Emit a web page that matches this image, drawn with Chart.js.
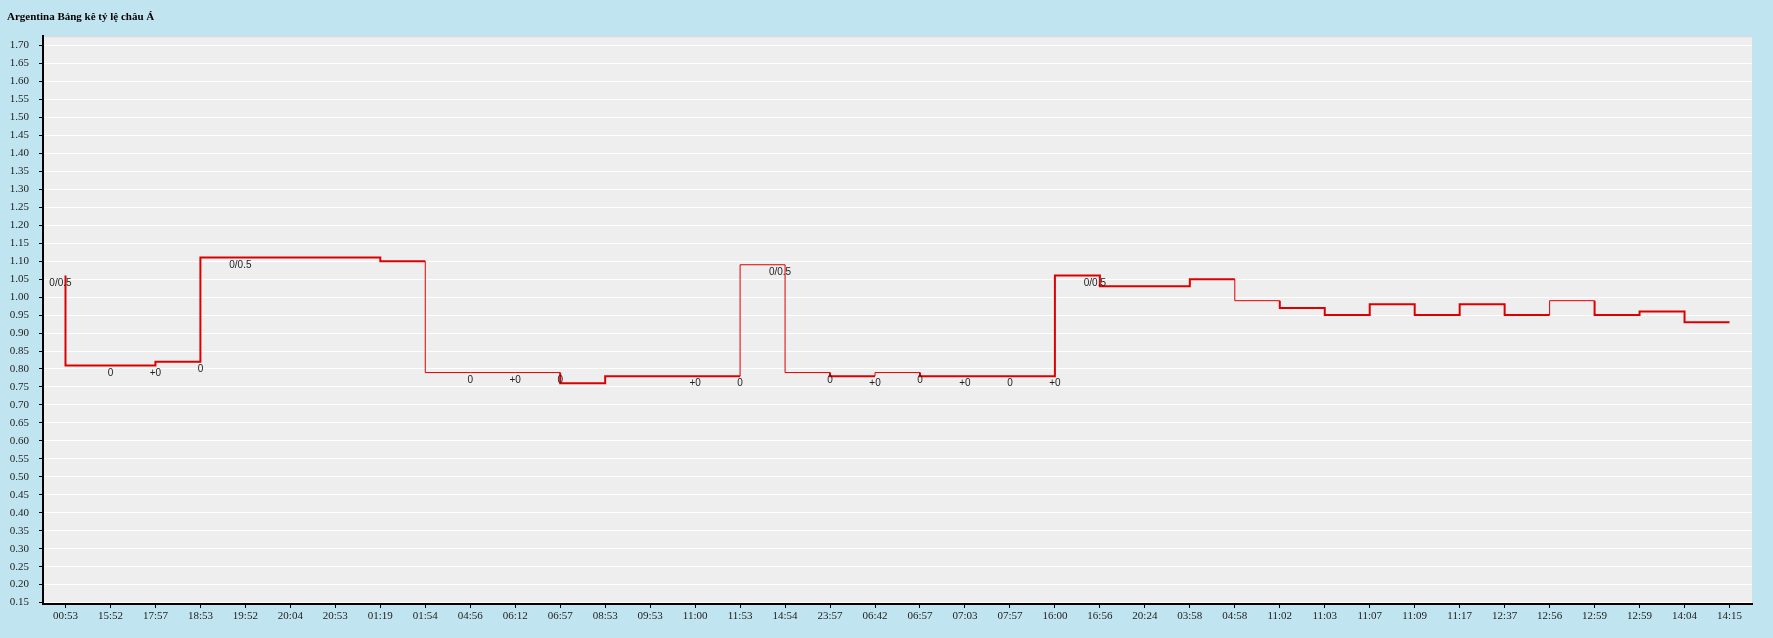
<!DOCTYPE html>
<html>
<head>
<meta charset="utf-8">
<title>Argentina Bảng kê tỷ lệ châu Á</title>
<script src="https://cdn.jsdelivr.net/npm/chart.js@4"></script>
<style>
  html, body { margin: 0; padding: 0; background: #c1e5f0; }
  #wrap { width: 1773px; height: 638px; position: relative; }
</style>
</head>
<body>
<div id="wrap"><canvas id="myChart"></canvas></div>
<script>
// tick labels along the bottom
const times = ['00:53', '15:52', '17:57', '18:53', '19:52', '20:04', '20:53', '01:19', '01:54', '04:56',
    '06:12', '06:57', '08:53', '09:53', '11:00', '11:53', '14:54', '23:57', '06:42', '06:57',
    '07:03', '07:57', '16:00', '16:56', '20:24', '03:58', '04:58', '11:02', '11:03', '11:07',
    '11:09', '11:17', '12:37', '12:56', '12:59', '12:59', '14:04', '14:15'];

// odds value, each value holds over the step ending at its time
const odds = [1.06, 0.81, 0.81, 0.82, 1.11, 1.11, 1.11, 1.11, 1.10, 0.79,
    0.79, 0.79, 0.76, 0.78, 0.78, 0.78, 1.09, 0.79, 0.78, 0.79,
    0.78, 0.78, 0.78, 1.06, 1.03, 1.03, 1.05, 0.99, 0.97, 0.95,
    0.98, 0.95, 0.98, 0.95, 0.99, 0.95, 0.96, 0.93];

// handicap text shown under the line
const handicap = ['0/0.5', '0', '+0', '0', '0/0.5', '', '', '', '', '0',
    '+0', '0', '', '', '+0', '0', '0/0.5', '0', '+0', '0',
    '+0', '0', '+0', '0/0.5', '', '', '', '', '', '',
    '', '', '', '', '', '', '', ''];

// steps drawn with the thin pen
const thinSteps = [9, 10, 11, 16, 17, 19, 27, 34];

const serif = 'Liberation Serif';

// grey plot background
const plotBg = {
    id: 'plotBg',
    beforeDraw(chart) {
        const { ctx, chartArea: a } = chart;
        ctx.save();
        ctx.fillStyle = '#eeeeee';
        ctx.fillRect(a.left, a.top, a.right - a.left, a.bottom - a.top);
        ctx.fillStyle = '#d6d6d6';
        ctx.fillRect(a.left, a.top, a.right - a.left, 1);
        ctx.restore();
    }
};

// handicap labels
const handicapLabels = {
    id: 'handicapLabels',
    afterDatasetsDraw(chart) {
        const { ctx, scales } = chart;
        ctx.save();
        ctx.font = '10px "Liberation Sans"';
        ctx.fillStyle = '#222';
        ctx.textAlign = 'center';
        ctx.textBaseline = 'middle';
        handicap.forEach((txt, i) => {
            if (!txt) return;
            const x = scales.x.getPixelForValue(i) - (txt.length > 2 ? 5 : 0);
            const y = scales.y.getPixelForValue(odds[i]) + 7.5;
            ctx.fillText(txt, x, y);
        });
        ctx.restore();
    }
};

function renderChart() {
    const ctx = document.getElementById('myChart').getContext('2d');
    return new Chart(ctx, {
        type: 'line',
        data: {
            labels: times,
            datasets: [{
                data: odds,
                borderColor: '#dd0000',
                borderWidth: 2,
                stepped: 'after',
                pointRadius: 0,
                fill: false,
                segment: {
                    borderWidth: c => thinSteps.includes(c.p1DataIndex) ? 1 : 2
                }
            }]
        },
        options: {
            responsive: true,
            maintainAspectRatio: false,
            animation: false,
            layout: { padding: { left: 7, right: 21, top: 0, bottom: 10 } },
            plugins: {
                legend: { display: false },
                tooltip: { enabled: false },
                title: {
                    display: true,
                    text: 'Argentina Bảng kê tỷ lệ châu Á',
                    align: 'start',
                    color: '#000',
                    font: { family: serif, size: 11, weight: 'bold' },
                    padding: { top: 11, bottom: 12 }
                }
            },
            scales: {
                x: {
                    type: 'category',
                    offset: true,
                    afterFit: s => { s.height = 24; },
                    grid: { drawOnChartArea: false, color: '#000', tickLength: 4 },
                    border: { color: '#000', width: 2 },
                    ticks: {
                        autoSkip: false,
                        maxRotation: 0,
                        padding: 2,
                        color: '#222',
                        font: { family: serif, size: 11 }
                    }
                },
                y: {
                    min: 0.146,
                    max: 1.726,
                    afterFit: s => { s.width = 36; },
                    afterBuildTicks: s => {
                        s.ticks = s.ticks.filter(t => Math.abs(t.value * 20 - Math.round(t.value * 20)) < 1e-6);
                    },
                    grid: { color: '#ffffff', lineWidth: 1, tickColor: '#000', tickLength: 4 },
                    border: { color: '#000', width: 2 },
                    ticks: {
                        stepSize: 0.05,
                        includeBounds: false,
                        padding: 10,
                        color: '#222',
                        font: { family: serif, size: 11 },
                        callback: v => Number(v).toFixed(2)
                    }
                }
            }
        },
        plugins: [plotBg, handicapLabels]
    });
}

window.onload = renderChart;
</script>
</body>
</html>
